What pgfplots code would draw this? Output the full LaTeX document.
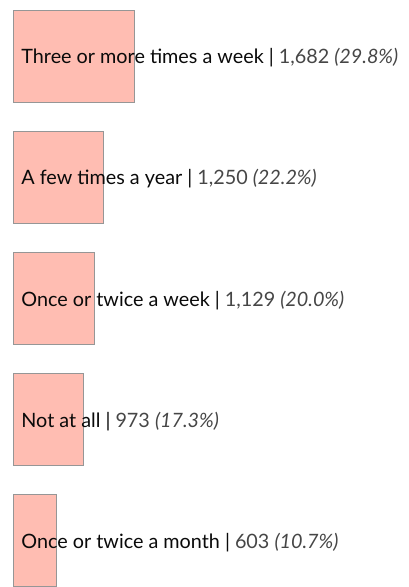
\documentclass[border=0pt]{standalone}
\usepackage{pgfplots}
\pgfplotsset{compat=1.18}
\usepackage{fontspec}
\setmainfont{Lato}

\definecolor{barfill}{RGB}{255,189,178}
\definecolor{barline}{RGB}{150,150,150}
\definecolor{labtext}{RGB}{10,10,10}
\definecolor{numtext}{RGB}{70,70,70}

\begin{document}
\begin{tikzpicture}
\begin{axis}[
    width=409bp, height=587bp,
    scale only axis,
    hide axis,
    xbar,
    y dir=reverse,
    xmin=-184.7, xmax=5496,
    ymin=-0.466, ymax=4.381,
    bar width=92bp,
    clip=false,
]
% responses per category, top to bottom
\addplot[fill=barfill, draw=barline, line width=1.2pt] coordinates {
    (1682,0) (1250,1) (1129,2) (973,3) (603,4)
};
\path (rel axis cs:0,0) -- (rel axis cs:1,1);

\begin{scope}[every node/.style={anchor=base west, inner sep=0pt, yshift=-7.6bp,
        font=\fontsize{19.8bp}{22bp}\selectfont, text=labtext}]
\node at (axis cs:110,0) {Three or more times a week | {\color{numtext}1,682 \textit{(29.8\%)}}};
\node at (axis cs:110,1) {A few times a year | {\color{numtext}1,250 \textit{(22.2\%)}}};
\node at (axis cs:110,2) {Once or twice a week | {\color{numtext}1,129 \textit{(20.0\%)}}};
\node at (axis cs:110,3) {Not at all | {\color{numtext}973 \textit{(17.3\%)}}};
\node at (axis cs:110,4) {Once or twice a month | {\color{numtext}603 \textit{(10.7\%)}}};
\end{scope}
\end{axis}
\end{tikzpicture}
\end{document}
